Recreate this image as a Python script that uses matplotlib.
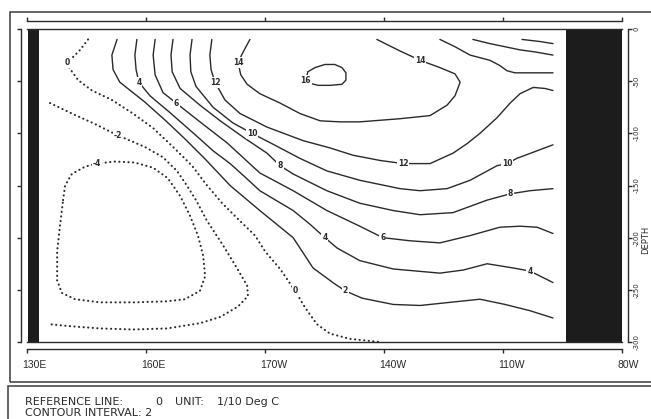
import matplotlib.pyplot as plt
import matplotlib.transforms as mtransforms
from matplotlib.patches import Rectangle

# section along the equator: longitude (deg east) vs depth (m)
lon_ticks = [130, 160, 190, 220, 250, 280]
lon_labels = ['130E', '160E', '170W', '140W', '110W', '80W']
depth_ticks = [0, 50, 100, 150, 200, 250, 300]

land_west = (130.3, 133.0)
land_east = (266.0, 280.0)

# isotherms in 1/10 deg C, traced as (lon, depth) points
iso_m4 = [(139.1, 164), (139.6, 150), (141.3, 139), (144.6, 132), (147.6, 129), (152.2, 127),
          (157.2, 128), (161.8, 133), (165.5, 143), (168.6, 160), (171.1, 179), (173.1, 198),
          (174.4, 217), (174.9, 237), (173.6, 251), (169.8, 259), (165.3, 261), (157.2, 262),
          (148.4, 262), (142.1, 259), (138.8, 253), (137.6, 241), (137.6, 213), (138.3, 189),
          (139.1, 164)]
iso_m2 = [(135.8, 71), (141.3, 81), (147.1, 91), (152.9, 102), (159.7, 113), (164.3, 123),
          (167.8, 136), (170.3, 150), (172.6, 164), (175.4, 184), (179.2, 206), (182.9, 229),
          (185.5, 246), (185.7, 256), (183.2, 266), (178.7, 276), (173.6, 282), (165.3, 287),
          (156.7, 288), (148.4, 287), (141.3, 285), (135.8, 283)]
iso_0 = [(145.4, 10), (143.4, 20), (141.3, 28), (140.1, 32), (140.8, 38), (142.9, 49),
         (146.4, 59), (151.4, 68), (156.7, 81), (161.8, 95), (166.8, 113), (171.6, 131),
         (175.4, 150), (179.2, 167), (183.7, 184), (187.5, 198), (190.0, 213), (193.8, 230),
         (197.6, 251), (200.1, 267), (203.1, 283), (206.4, 292), (211.4, 297), (219.0, 300)]
iso_2 = [(152.7, 10), (151.4, 25), (151.7, 39), (153.4, 51), (159.7, 70), (165.0, 88),
         (170.0, 106), (175.0, 125), (181.2, 150), (188.7, 174), (197.1, 200), (202.1, 229),
         (207.1, 243), (210.2, 251), (214.5, 258), (222.3, 264), (229.1, 265), (236.6, 262),
         (244.2, 259), (250.5, 264), (256.8, 270), (262.6, 277)]
iso_4 = [(157.7, 10), (157.2, 25), (157.5, 39), (158.2, 51), (161.0, 64), (166.0, 80),
         (172.0, 100), (177.0, 117), (181.2, 129), (185.0, 142), (188.7, 155), (197.1, 174),
         (201.3, 187), (205.1, 200), (208.2, 210), (213.9, 222), (222.3, 230), (234.1, 234),
         (240.0, 231), (246.0, 225), (252.5, 229), (256.8, 232), (262.6, 243)]
iso_6 = [(162.3, 10), (161.8, 25), (162.3, 44), (164.3, 61), (167.6, 71), (173.6, 89),
         (180.4, 109), (188.7, 138), (197.1, 155), (205.6, 174), (213.9, 189), (219.7, 200),
         (226.6, 203), (234.1, 205), (241.7, 198), (249.2, 190), (254.3, 189), (258.6, 190),
         (262.6, 196)]
iso_8 = [(166.8, 10), (166.3, 25), (166.6, 41), (168.6, 57), (173.6, 73), (178.7, 88),
         (185.0, 105), (190.5, 119), (193.8, 131), (197.1, 139), (205.6, 155), (213.9, 167),
         (222.3, 174), (229.1, 178), (237.4, 176), (246.0, 164), (251.8, 158), (256.8, 155),
         (262.6, 153)]
iso_8_east = [(254.8, 10), (259.3, 12), (262.6, 14)]
iso_10 = [(171.6, 10), (171.1, 25), (171.3, 41), (172.6, 55), (176.9, 75), (181.9, 90),
          (186.7, 100), (191.3, 109), (198.8, 124), (205.6, 136), (213.9, 145), (224.0, 153),
          (229.1, 155), (235.9, 153), (241.7, 145), (248.5, 131), (251.0, 129), (253.5, 124),
          (262.6, 111)]
iso_10_east = [(242.4, 10), (246.7, 14), (250.5, 17), (254.3, 20), (258.1, 22), (262.6, 25)]
iso_12 = [(176.6, 10), (176.1, 25), (176.4, 39), (177.4, 51), (179.9, 68), (183.7, 81),
          (190.5, 94), (199.6, 107), (206.4, 114), (212.2, 121), (219.0, 126), (224.8, 129),
          (231.6, 129), (237.4, 119), (240.9, 110), (244.2, 100), (248.5, 85), (251.8, 71),
          (254.3, 62), (257.6, 56), (260.6, 57), (262.6, 59)]
iso_12_east = [(234.1, 10), (237.9, 17), (241.7, 25), (246.7, 30), (249.2, 35), (251.0, 40),
               (253.0, 42), (262.6, 42)]
iso_14 = [(186.2, 10), (184.5, 22), (183.2, 32), (183.9, 44), (185.5, 53), (188.7, 62),
          (193.8, 71), (198.8, 81), (203.9, 88), (208.9, 89), (213.9, 89), (224.0, 86),
          (231.6, 83), (235.9, 73), (237.9, 64), (239.2, 51), (237.9, 43), (234.1, 37),
          (229.1, 30), (224.0, 21), (218.2, 10)]
iso_16 = [(200.3, 49), (200.8, 41), (202.6, 37), (205.1, 34), (207.6, 34), (209.4, 37),
          (210.4, 42), (210.4, 49), (209.4, 53), (206.4, 54), (203.4, 54), (201.3, 52),
          (200.3, 49)]

# contour labels: text, lon, depth
line_labels = [('0', 140.1, 32), ('0', 197.6, 251), ('-2', 152.9, 102), ('-4', 147.6, 129),
               ('2', 210.2, 251), ('4', 158.2, 51), ('4', 205.1, 200), ('4', 256.8, 232),
               ('6', 167.6, 71), ('6', 219.7, 200), ('8', 193.8, 131), ('8', 251.8, 158),
               ('10', 186.7, 100), ('10', 251.0, 129), ('12', 177.4, 51), ('12', 224.8, 129),
               ('14', 183.2, 32), ('14', 229.1, 30), ('16', 200.3, 49)]

ink = '#2a2a2a'
W, H = 651, 419


def fx(px):
    return px / W


def fy(py):
    return 1 - py / H


fig = plt.figure(figsize=(W / 100, H / 100), dpi=100)
rect = [fx(27), fy(342), fx(622) - fx(27), fy(29) - fy(342)]

ax = fig.add_axes(rect)
ax.set_xlim(130, 280)
ax.set_ylim(300, 0)
ax.set_xticks([])
ax.set_yticks([])
for side in ['left', 'right']:
    ax.spines[side].set_visible(False)
for side in ['top', 'bottom']:
    ax.spines[side].set_color(ink)
    ax.spines[side].set_linewidth(1.0)

ax.axvspan(*land_west, color='#1c1c1c', lw=0)
ax.axvspan(*land_east, color='#1c1c1c', lw=0)

for iso in [iso_2, iso_4, iso_6, iso_8, iso_8_east, iso_10, iso_10_east,
            iso_12, iso_12_east, iso_14, iso_16]:
    lon, dep = zip(*iso)
    ax.plot(lon, dep, color=ink, lw=1.0, solid_capstyle='round', solid_joinstyle='round')

for iso in [iso_m4, iso_m2, iso_0]:
    lon, dep = zip(*iso)
    ax.plot(lon, dep, color=ink, lw=1.5, linestyle=(0, (0.1, 2.1)), dash_capstyle='round')

for text, lon, dep in line_labels:
    ax.text(lon, dep, text, fontsize=5.5, ha='center', va='center', color=ink,
            fontweight='bold', zorder=5,
            bbox=dict(boxstyle='square,pad=0.12', fc='white', ec='none'))

# outer axes carry the offset tick lines
axf = fig.add_axes(rect)
axf.patch.set_visible(False)
axf.set_xlim(130, 280)
axf.set_ylim(300, 0)
for side, off in [('top', 6), ('bottom', 5), ('left', 4.5), ('right', 4.5)]:
    axf.spines[side].set_position(('outward', off))
    axf.spines[side].set_color(ink)
    axf.spines[side].set_linewidth(1.0)

axf.set_xticks(lon_ticks)
axf.set_xticklabels(lon_labels, fontsize=7.5, family='Liberation Sans', color=ink)
axf.tick_params(axis='x', top=True, bottom=True, direction='out', length=3,
                width=1, color=ink, pad=5)
shift = mtransforms.ScaledTranslation(-0.045, 0, fig.dpi_scale_trans)
for lab in axf.get_xticklabels():
    lab.set_ha('left')
    lab.set_transform(lab.get_transform() + shift)

axf.set_yticks(depth_ticks)
axf.set_yticklabels(['0' if d == 0 else '-%d' % d for d in depth_ticks],
                    fontsize=5, rotation=90, va='center', color=ink)
axf.tick_params(axis='y', left=True, right=True, labelleft=False, labelright=True,
                direction='out', length=3, width=1, color=ink, pad=1)

fig.text(fx(645.5), fy(240), 'DEPTH', rotation=90, fontsize=6, ha='center',
         va='center', color=ink)

# surrounding frames
fig.add_artist(Rectangle((fx(10), fy(382)), fx(700) - fx(10), fy(12) - fy(382),
                         transform=fig.transFigure, fill=False, ec='#3a3a3a', lw=1.1))
fig.add_artist(Rectangle((fx(8), fy(440)), fx(700) - fx(8), fy(386) - fy(440),
                         transform=fig.transFigure, fill=False, ec='#3a3a3a', lw=1.1))

note = dict(fontsize=8, color=ink, va='center')
fig.text(fx(25), fy(402), 'REFERENCE LINE:', **note)
fig.text(fx(155), fy(402), '0', **note)
fig.text(fx(175), fy(402), 'UNIT:', **note)
fig.text(fx(217), fy(402), '1/10 Deg C', **note)
fig.text(fx(25), fy(413), 'CONTOUR INTERVAL: 2', **note)

fig.savefig('out.png', dpi=100)
